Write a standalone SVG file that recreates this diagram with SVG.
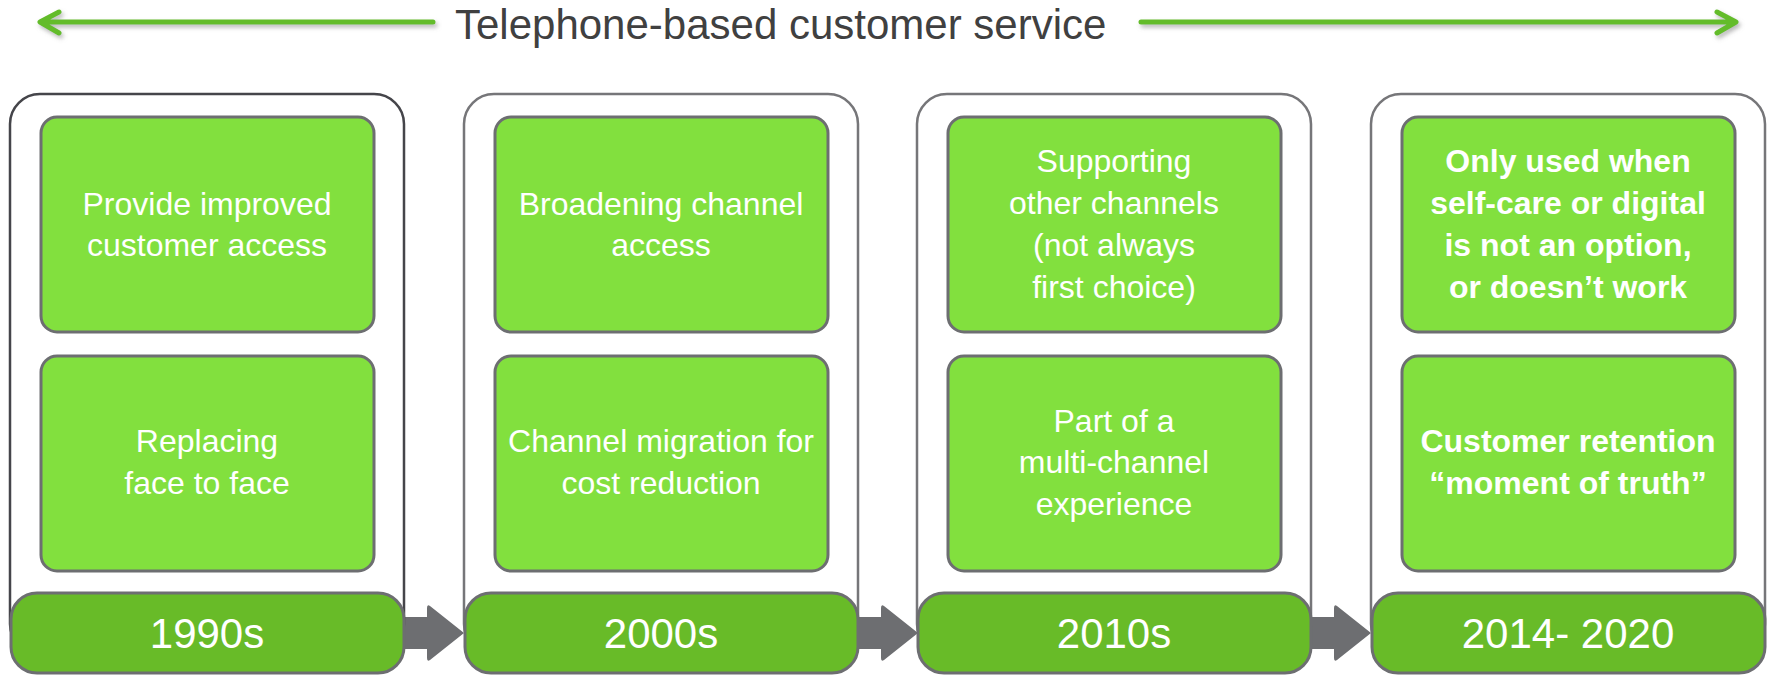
<svg xmlns="http://www.w3.org/2000/svg" width="1771" height="675" viewBox="0 0 1771 675">
  <defs>
    <style>
      .outer { fill: #ffffff; stroke: #767679; stroke-width: 2.5; }
      .outer.dark { stroke: #45454a; }
      .card { fill: #82e03e; stroke: #6d6e71; stroke-width: 3; }
      .bar { fill: #68bb28; stroke: #6d6e71; stroke-width: 3; }
      .txt { font-family: "Liberation Sans", Arial, sans-serif; font-size: 32px; fill: #ffffff; text-anchor: middle; }
      .bold { font-weight: bold; }
      .year { font-family: "Liberation Sans", Arial, sans-serif; font-size: 42px; fill: #ffffff; text-anchor: middle; }
      .title { font-family: "Liberation Sans", Arial, sans-serif; font-size: 42px; fill: #404040; }
      .span { fill: none; stroke: #64bc2a; stroke-width: 5; stroke-linecap: round; stroke-linejoin: round; }
      .step { fill: #6d6e71; }
    </style>
    <filter id="soft" x="-5%" y="-100%" width="110%" height="300%">
      <feDropShadow dx="2" dy="3" stdDeviation="2" flood-color="#808080" flood-opacity="0.55"/>
    </filter>
  </defs>

  <!-- span arrows with heading -->
  <g id="span">
    <g filter="url(#soft)">
      <path class="span" d="M41 22 H433 M59 12 L40 22 L59 33"/>
      <path class="span" d="M1141 22 H1735 M1717 12 L1736 22 L1717 33"/>
    </g>
    <text class="title" x="455" y="39">Telephone-based customer service</text>
  </g>

  <!-- step connectors between eras -->
  <g id="connectors">
    <path class="step" d="M404 617 H427 V608 Q427 604 430 606 L464 633 L430 660 Q427 662 427 658 V649 H404 Z"/>
    <path class="step" d="M858 617 H881 V608 Q881 604 884 606 L918 633 L884 660 Q881 662 881 658 V649 H858 Z"/>
    <path class="step" d="M1311 617 H1334 V608 Q1334 604 1337 606 L1371 633 L1337 660 Q1334 662 1334 658 V649 H1311 Z"/>
  </g>

  <!-- 1990s -->
  <g id="era-1990s" transform="translate(10,0)">
    <rect class="outer dark" x="0" y="94" width="394" height="560" rx="30"/>
    <rect class="card" x="31" y="117" width="333" height="215" rx="16"/>
    <text class="txt" x="197" y="215">Provide improved</text>
    <text class="txt" x="197" y="256">customer access</text>
    <rect class="card" x="31" y="356" width="333" height="215" rx="16"/>
    <text class="txt" x="197" y="452">Replacing</text>
    <text class="txt" x="197" y="494">face to face</text>
    <rect class="bar" x="1" y="593" width="393" height="80" rx="26"/>
    <text class="year" x="197" y="648">1990s</text>
  </g>

  <!-- 2000s -->
  <g id="era-2000s" transform="translate(464,0)">
    <rect class="outer" x="0" y="94" width="394" height="560" rx="30"/>
    <rect class="card" x="31" y="117" width="333" height="215" rx="16"/>
    <text class="txt" x="197" y="215">Broadening channel</text>
    <text class="txt" x="197" y="256">access</text>
    <rect class="card" x="31" y="356" width="333" height="215" rx="16"/>
    <text class="txt" x="197" y="452">Channel migration for</text>
    <text class="txt" x="197" y="494">cost reduction</text>
    <rect class="bar" x="1" y="593" width="393" height="80" rx="26"/>
    <text class="year" x="197" y="648">2000s</text>
  </g>

  <!-- 2010s -->
  <g id="era-2010s" transform="translate(917,0)">
    <rect class="outer" x="0" y="94" width="394" height="560" rx="30"/>
    <rect class="card" x="31" y="117" width="333" height="215" rx="16"/>
    <text class="txt" x="197" y="172">Supporting</text>
    <text class="txt" x="197" y="214">other channels</text>
    <text class="txt" x="197" y="256">(not always</text>
    <text class="txt" x="197" y="298">first choice)</text>
    <rect class="card" x="31" y="356" width="333" height="215" rx="16"/>
    <text class="txt" x="197" y="432">Part of a</text>
    <text class="txt" x="197" y="473">multi-channel</text>
    <text class="txt" x="197" y="515">experience</text>
    <rect class="bar" x="1" y="593" width="393" height="80" rx="26"/>
    <text class="year" x="197" y="648">2010s</text>
  </g>

  <!-- 2014-2020 -->
  <g id="era-2014-2020" transform="translate(1371,0)">
    <rect class="outer" x="0" y="94" width="394" height="560" rx="30"/>
    <rect class="card" x="31" y="117" width="333" height="215" rx="16"/>
    <text class="txt bold" x="197" y="172">Only used when</text>
    <text class="txt bold" x="197" y="214">self-care or digital</text>
    <text class="txt bold" x="197" y="256">is not an option,</text>
    <text class="txt bold" x="197" y="298">or doesn’t work</text>
    <rect class="card" x="31" y="356" width="333" height="215" rx="16"/>
    <text class="txt bold" x="197" y="452">Customer retention</text>
    <text class="txt bold" x="197" y="494">“moment of truth”</text>
    <rect class="bar" x="1" y="593" width="393" height="80" rx="26"/>
    <text class="year" x="197" y="648">2014- 2020</text>
  </g>
</svg>
